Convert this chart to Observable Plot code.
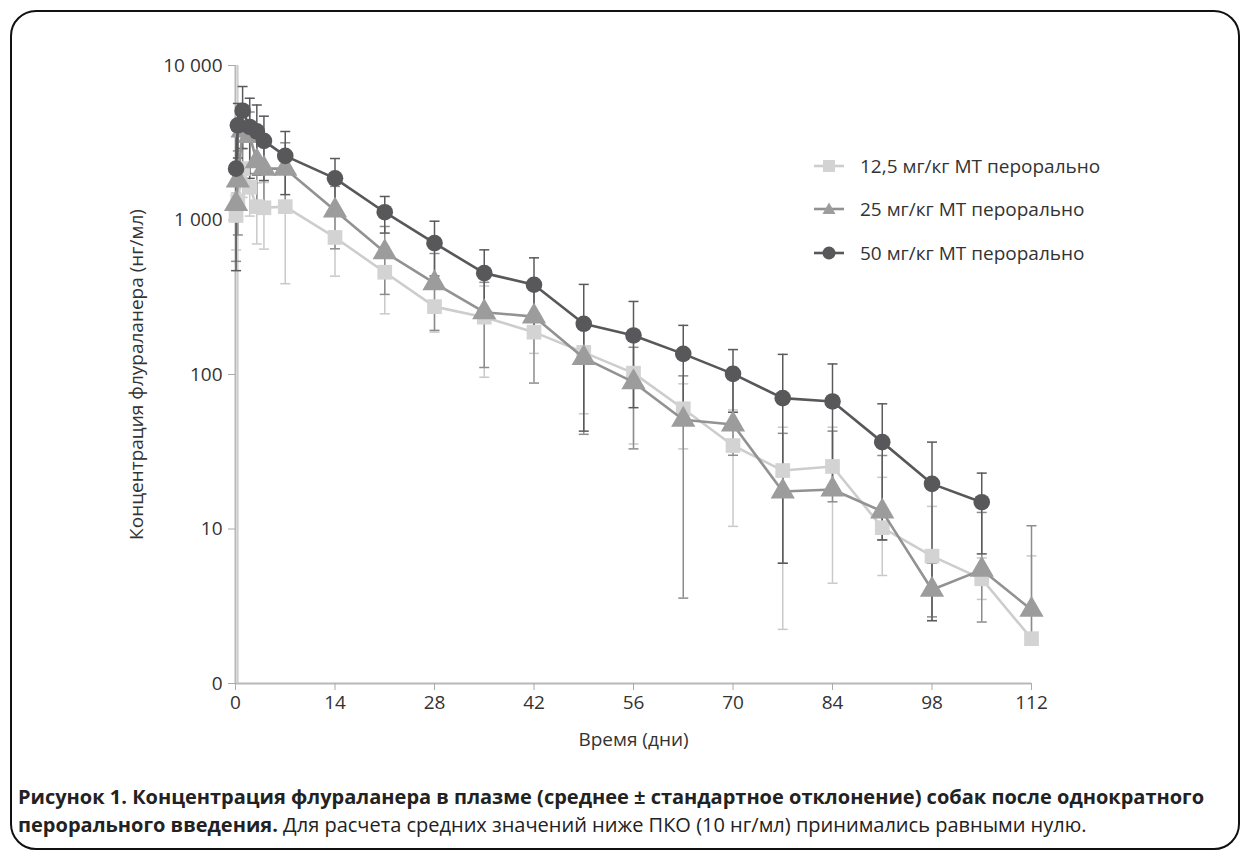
<!DOCTYPE html>
<html>
<head>
<meta charset="utf-8">
<script src="https://cdn.jsdelivr.net/npm/d3@7"></script>
<script src="https://cdn.jsdelivr.net/npm/@observablehq/plot@0.6"></script>
<style>
  html, body { margin: 0; padding: 0; background: #fff; }
  body { width: 1247px; height: 854px; position: relative; overflow: hidden; font-family: "Open Sans", sans-serif; color: #333; }
  #frame { position: absolute; left: 10px; top: 10px; width: 1230px; height: 840px; border: 2px solid #111; border-radius: 26px; box-sizing: border-box; }
  #chart { position: absolute; left: 0; top: 0; }
  #legend { position: absolute; left: 812px; top: 144px; font-size: 19px; color: #333; }
  #legend .row { display: flex; align-items: center; height: 43.5px; }
  #legend svg { margin-right: 14px; }
  #caption { position: absolute; left: 18px; top: 783px; font-size: 20px; line-height: 28px; color: #222; white-space: nowrap; }
  #caption b { font-weight: 700; }
</style>
</head>
<body>
<div id="frame"></div>
<div id="chart"></div>
<div id="legend"></div>
<div id="caption"><b>Рисунок 1. Концентрация флураланера в плазме (среднее ± стандартное отклонение) собак после однократного</b><br><b>перорального введения.</b> Для расчета средних значений ниже ПКО (10 нг/мл) принимались равными нулю.</div>
<script>
// ---- data ----
const times = [0.08, 0.33, 1, 2, 3, 4, 7, 14, 21, 28, 35, 42, 49, 56, 63, 70, 77, 84, 91, 98, 105, 112];
const seriesNames = ["12,5 мг/кг МТ перорально", "25 мг/кг МТ перорально", "50 мг/кг МТ перорально"];

const mean125 = [1070, 1330, 2150, 1630, 1220, 1200, 1220, 771, 459, 275, 235, 188, 139, 102, 60, 34.7, 23.9, 25.4, 10.2, 6.67, 4.76, 1.95];
const hi125   = [1500, 10000, 2900, 2200, 1740, 1750, 2050, 1110, 671, 362, 374, 239, 222, 168, 87, 59, 45.6, 45.6, 21.6, 14, 6.5, 6.7];
const lo125   = [640, 1, 1400, 1060, 700, 648, 387, 433, 247, 188, 96, 137, 55.7, 35.5, 33, 10.4, 2.24, 4.46, 5, 2.55, 3.5, 1.9];

const mean25 = [1270, 1800, 3800, 3500, 2400, 2150, 2150, 1152, 619, 390, 253, 237, 128, 89.2, 50.9, 47.5, 17.5, 18, 13, 4.04, 5.44, 3.0];
const hi25   = [2000, 2800, 5500, 5000, 3600, 3100, 3160, 1650, 908, 607, 395, 386, 215, 150, 98, 111, 41.6, 43, 29.9, 6, 12.8, 10.5];
const lo25   = [540, 800, 2100, 2000, 1200, 1200, 1140, 651, 330, 193, 111, 88, 41, 33, 3.57, 30, 6, 15, 8.5, 2.7, 2.5, 2];

const mean50 = [2150, 4100, 5100, 4000, 3750, 3250, 2600, 1860, 1123, 708, 453, 381, 213, 179, 136, 101, 70.3, 66.9, 36.5, 19.6, 14.9, null];
const hi50   = [3830, 5680, 7310, 6140, 5550, 4700, 3740, 2500, 1420, 982, 641, 569, 383, 297, 208, 145, 135, 117, 64.6, 36.5, 23, null];
const lo50   = [470, 2520, 2900, 1860, 1950, 1800, 1460, 1220, 823, 434, 265, 193, 43, 61, 65, 57, 6, 17, 8.5, 2.55, 6.9, null];

const xTicks = [0, 14, 28, 42, 56, 70, 84, 98, 112];
const yTicks = [1, 10, 100, 1000, 10000];
const yTickLabels = ["0", "10", "100", "1 000", "10 000"];

// ---- styling ----
const lineColors = ["#cdcdcd", "#929292", "#58585b"];
const fillColors = ["#d3d3d3", "#9c9c9c", "#58585b"];
const barColors  = ["#c9c9c9", "#8c8c8c", "#5a5a5c"];
const symbols = ["square", "triangle", "circle"];

const means = [mean125, mean25, mean50];
const his = [hi125, hi25, hi50];
const los = [lo125, lo25, lo50];

const rows = [];
means.forEach((m, s) => {
  times.forEach((t, i) => {
    if (m[i] == null) return;
    rows.push({t, s, series: seriesNames[s], mean: m[i], hi: his[s][i], lo: los[s][i]});
  });
});
const caps = [];
rows.forEach(r => {
  if (r.hi < 10000) caps.push({t: r.t, s: r.s, v: r.hi});
  if (r.lo > 1) caps.push({t: r.t, s: r.s, v: r.lo});
});

const hline = { draw(ctx, size) { const w = Math.sqrt(size / Math.PI); ctx.moveTo(-w, 0); ctx.lineTo(w, 0); } };

const H = 770;
const marks = [
  Plot.ruleX([0], {stroke: "#b8b8b8", strokeWidth: 2}),
  Plot.ruleY([1], {stroke: "#b8b8b8", strokeWidth: 2}),
  Plot.axisY({ticks: yTicks, tickFormat: d => yTickLabels[yTicks.indexOf(d)], tickSize: 7, tickPadding: 6, stroke: "#aaa", fill: "#333", fontSize: 19,
    label: "Концентрация флураланера (нг/мл)", labelAnchor: "center", labelArrow: "none", labelOffset: 106}),
  Plot.axisX({ticks: xTicks, tickFormat: d => String(d), tickSize: 7, tickPadding: 5, stroke: "#aaa", fill: "#333", fontSize: 19,
    label: "Время (дни)", labelAnchor: "center", labelArrow: "none", labelOffset: 62}),
];
[0, 1, 2].forEach(s => {
  const r = rows.filter(d => d.s === s);
  const c = caps.filter(d => d.s === s);
  marks.push(Plot.ruleX(r, {x: "t", y1: "lo", y2: "hi", stroke: barColors[s], strokeWidth: 1.5}));
  marks.push(Plot.dot(c, {x: "t", y: "v", symbol: hline, r: 5, fill: "none", stroke: barColors[s], strokeWidth: 1.5}));
});
[0, 1, 2].forEach(s => {
  const r = rows.filter(d => d.s === s);
  marks.push(Plot.line(r, {x: "t", y: "mean", stroke: lineColors[s], strokeWidth: 2.6}));
  marks.push(Plot.dot(r, {x: "t", y: "mean", symbol: symbols[s], r: s === 1 ? 9 : 8.3, fill: fillColors[s], stroke: "none"}));
});

const chart = Plot.plot({
  width: 1247,
  height: H,
  marginLeft: 235,
  marginRight: 216,
  marginTop: 65,
  marginBottom: H - 683,
  style: {fontFamily: "Open Sans, sans-serif", fontSize: "19px", color: "#333", background: "transparent"},
  x: {domain: [0, 112]},
  y: {type: "log", domain: [1, 10000]},
  marks
});
document.getElementById("chart").appendChild(chart);

// ---- legend ----
const legend = document.getElementById("legend");
seriesNames.forEach((name, s) => {
  const row = document.createElement("div");
  row.className = "row";
  let marker;
  if (s === 0) marker = `<rect x="11" y="4" width="12" height="12" fill="${fillColors[0]}"/>`;
  else if (s === 1) marker = `<path d="M17,3.5 L23.5,15 L10.5,15 Z" fill="${fillColors[1]}"/>`;
  else marker = `<circle cx="17" cy="10" r="6.5" fill="${fillColors[2]}"/>`;
  row.innerHTML = `<svg width="34" height="20"><line x1="2" x2="32" y1="10" y2="10" stroke="${lineColors[s]}" stroke-width="2.6"/>${marker}</svg><span>${name}</span>`;
  legend.appendChild(row);
});
</script>
</body>
</html>
